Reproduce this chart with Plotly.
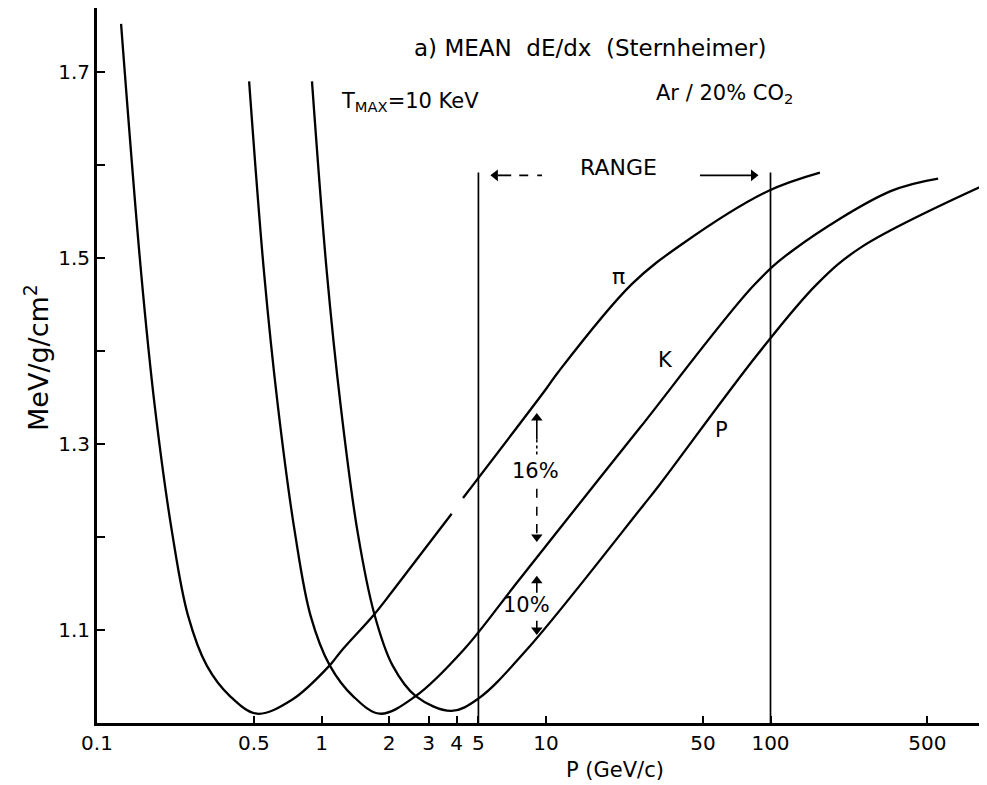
import plotly.graph_objects as go

# ---------------- data ----------------
# momentum P (GeV/c) and mean dE/dx (MeV/g/cm^2)
pi_p = [0.128, 0.157, 0.181, 0.216, 0.254, 0.308, 0.391, 0.516, 0.739, 1.088, 1.22, 1.72, 2.09, 3.80,
        None, 4.27, 10.06, 11.3, 24.1, 40.6, 97.2, 166]
pi_y = [1.752, 1.486, 1.34, 1.205, 1.116, 1.062, 1.029, 1.010, 1.025, 1.062, 1.077, 1.117, 1.143, 1.225,
        None, 1.242, 1.360, 1.377, 1.472, 1.5155, 1.572, 1.592]

k_p = [0.476, 0.554, 0.640, 0.761, 0.895, 1.088, 1.381, 1.822, 2.63, 4.31, 7.37, 16.4, 26.3, 84.9, 126, 343, 558]
k_y = [1.69, 1.486, 1.34, 1.205, 1.115, 1.062, 1.029, 1.010, 1.029, 1.079, 1.150, 1.256, 1.318, 1.4716,
       1.5085, 1.572, 1.5856]

p_p = [0.907, 1.055, 1.219, 1.449, 1.72, 2.072, 2.63, 3.79, 4.98, 8.22, 27.1, 32, 87.3, 161, 251, 925]
p_y = [1.69, 1.486, 1.34, 1.205, 1.117, 1.062, 1.029, 1.013, 1.026, 1.079, 1.234, 1.256, 1.396, 1.472,
       1.511, 1.580]

range_p = [5, 100]          # momentum range markers
range_top = 1.592
range_arrow_y = 1.589

x_tickvals = [0.1, 0.5, 1, 2, 3, 4, 5, 10, 50, 100, 500]
x_ticktext = ["0.1", "0.5", "1", "2", "3", "4", "5", "10", "50", "100", "500"]
y_tickvals = [1.1, 1.3, 1.5, 1.7]
y_ticktext = ["1.1", "1.3", "1.5", "1.7"]
y_minor = [1.2, 1.4, 1.6]

# separation arrows (at P = 9.1 GeV/c)
sep_p = 9.1

FONT = "DejaVu Sans, Verdana, sans-serif"
BLK = "black"

fig = go.Figure()


def line(xs, ys, width=1.7, dash=None, shape="linear"):
    ln = dict(color=BLK, width=width, shape=shape)
    if dash:
        ln["dash"] = dash
    if shape == "spline":
        ln["smoothing"] = 1.0
    fig.add_trace(go.Scatter(x=xs, y=ys, mode="lines", line=ln, connectgaps=False,
                             hoverinfo="skip", showlegend=False))


def head(x, y, symbol, size=10):
    fig.add_trace(go.Scatter(x=[x], y=[y], mode="markers",
                             marker=dict(symbol=symbol, size=size, color=BLK, line=dict(width=0)),
                             hoverinfo="skip", showlegend=False))


for xs, ys in [(pi_p, pi_y), (k_p, k_y), (p_p, p_y)]:
    line(xs, ys, width=2.3, shape="spline")
for rp in range_p:
    line([rp, rp], [1.0, range_top], width=1.7)

# 16 % separation arrow (dotted / dashed shaft)
line([sep_p, sep_p], [1.305, 1.326], width=1.6)
head(sep_p, 1.328, "triangle-up")
line([sep_p, sep_p], [1.305, 1.288], width=1.5, dash="dot")
line([sep_p, sep_p], [1.252, 1.214], width=1.5, dash="dash")
line([sep_p, sep_p], [1.214, 1.204], width=1.6)
head(sep_p, 1.200, "triangle-down")
# 10 % separation arrow
line([sep_p, sep_p], [1.140, 1.151], width=1.6)
head(sep_p, 1.153, "triangle-up")
line([sep_p, sep_p], [1.110, 1.102], width=1.6)
head(sep_p, 1.100, "triangle-down")
# RANGE arrows
head(5.95, range_arrow_y, "triangle-left")
line([6.1, 7.0], [range_arrow_y, range_arrow_y], width=1.8)
line([7.6, 9.6], [range_arrow_y, range_arrow_y], width=1.8, dash="dash")
line([48.5, 82], [range_arrow_y, range_arrow_y], width=1.8)
head(84, range_arrow_y, "triangle-right")

ann = []


# plot box: x0=89px, width 898px, y0=715px, height 715px
def px(X):
    return (X - 89) / 898.0


def py(Y):
    return (715 - Y) / 715.0


def text(X, Y, s, size=21, angle=0):
    ann.append(dict(x=px(X), y=py(Y), xref="paper", yref="paper", text=s, showarrow=False,
                    textangle=angle, font=dict(family=FONT, size=size, color=BLK),
                    xanchor="center", yanchor="middle"))


text(582, 40, "a) MEAN  dE/dx  (Sternheimer)", 23)
text(716, 86, "Ar / 20% CO<sub>2</sub>", 21)
text(402, 94, "T<sub>MAX</sub>=10 KeV", 21)
text(610, 160, "RANGE", 22)
text(610, 268, "π", 22)
text(657, 352, "K", 21)
text(713, 422, "P", 21)
text(527, 463, "16%", 21)
text(518, 597, "10%", 21)
text(607, 762, "P (GeV/c)", 21)
text(28, 350, "MeV/g/cm<sup>2</sup>", 27, -90)

fig.update_layout(
    width=987, height=785,
    margin=dict(l=89, r=0, t=0, b=70),
    paper_bgcolor="white", plot_bgcolor="white",
    font=dict(family=FONT, size=20, color=BLK),
    annotations=ann,
    xaxis=dict(type="log", range=[-1, 3], tickvals=x_tickvals, ticktext=x_ticktext,
               ticks="inside", ticklen=7, tickwidth=1.5, tickcolor=BLK,
               showline=True, linewidth=3, linecolor=BLK, showgrid=False, zeroline=False,
               tickfont=dict(family=FONT, size=20)),
    yaxis=dict(range=[1.0, 1.769], tickvals=y_tickvals, ticktext=y_ticktext,
               ticks="inside", ticklen=8, tickwidth=2, tickcolor=BLK,
               minor=dict(tickvals=y_minor, ticks="inside", ticklen=8, tickwidth=2, tickcolor=BLK,
                          showgrid=False),
               showline=True, linewidth=3, linecolor=BLK, showgrid=False, zeroline=False,
               tickfont=dict(family=FONT, size=20)),
)

fig.write_html("out.html")
